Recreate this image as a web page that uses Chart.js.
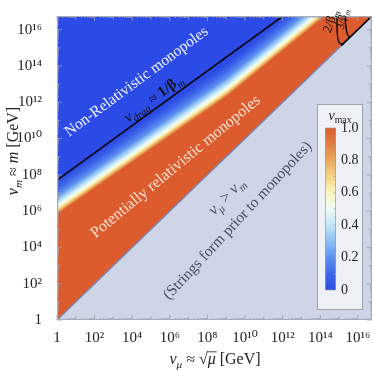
<!DOCTYPE html>
<html>
<head>
<meta charset="utf-8">
<script src="https://cdn.jsdelivr.net/npm/chart.js@4.4.1/dist/chart.umd.min.js"></script>
<style>
    html, body { margin: 0; padding: 0; background: #fff; }
</style>
</head>
<body>
<canvas id="vmaxChart" width="374" height="371"></canvas>
<script>
// both axes are log10 of GeV
const axisMinExp = 0;
const axisMaxExp = 16.75;
const labelExps = [0, 2, 4, 6, 8, 10, 12, 14, 16];

// v_max field: log10(m) of each level at v_mu = 1 GeV
const vmaxLevels = [0, 0.2, 0.4, 0.6, 0.8, 1.0];
const levelLogM = [7.65, 6.85, 6.45, 6.15, 5.95, 5.8];
// contours bend at v_mu = 10^bendExp: slope below / above
const bendExp = 9.04;
const contourSlopes = [0.72, 0.846];

// colour map used by field and colour bar
const cmapStops = [0, 0.1, 0.2, 0.3, 0.4, 0.5, 0.6, 0.7, 0.8, 0.9, 1.0];
const cmapColors = ['#2c4be6', '#3f66ea', '#5d8ff0', '#8dbff4', '#c2e6fa', '#eefbf8',
                    '#fbf5bd', '#f4d588', '#eaa75c', '#e17f42', '#dc5c2d'];
const barLabels = [1.0, 0.8, 0.6, 0.4, 0.2, 0];

// v_mu = v_m boundary, split where the contours bend
const diagLowX = [1, 10 ** (bendExp + 0.06)];
const diagHighX = [10 ** bendExp, 10 ** axisMaxExp];

// v_drag ~ 1/beta_m
const dragX = [1, 1.03e12];
const dragY = [5.1e7, 5.6e16];

// 2/beta_m and 3/beta_m contours, then along the boundary
const beta2X = [7.69e14, 8.17e14, 1.04e15, 1.6e15];
const beta2Y = [5.6e16, 4.82e15, 1.81e15, 1.6e15];
const beta3X = [2.05e15, 2.46e15, 3.34e15, 4.27e15];
const beta3Y = [5.6e16, 8.9e15, 4.02e15, 4.27e15];
const edgeX = [1.3e15, 10 ** axisMaxExp];

const FONT = '"Liberation Serif", "DejaVu Serif", serif';
const SUP = { '0': '⁰', '1': '¹', '2': '²', '3': '³', '4': '⁴', '5': '⁵', '6': '⁶', '7': '⁷', '8': '⁸', '9': '⁹' };

function toPoints(xs, ys) {
    return xs.map((x, i) => ({ x: x, y: ys[i] }));
}

function expLabel(value) {
    const e = Math.round(Math.log10(value));
    if (e === 0) return '1';
    return '10' + String(e).split('').map(c => SUP[c]).join('');
}

// log10(m) of level v at v_mu = 1
function logMAt(v) {
    for (let i = 0; i < vmaxLevels.length - 1; i++) {
        if (v <= vmaxLevels[i + 1]) {
            const t = (v - vmaxLevels[i]) / (vmaxLevels[i + 1] - vmaxLevels[i]);
            return levelLogM[i] + t * (levelLogM[i + 1] - levelLogM[i]);
        }
    }
    return levelLogM[levelLogM.length - 1];
}

// linear gradient whose stripes follow contours of slope `slope` through (10^xExp, 10^logM)
function fieldGradient(chart, part) {
    if (!chart.chartArea) return '#dc5c2d';
    const xs = chart.scales.x, ys = chart.scales.y;
    const xExp = part === 0 ? 0 : bendExp;
    const slope = contourSlopes[part];
    const lift = contourSlopes[0] * xExp;
    const x0 = xs.getPixelForValue(10 ** xExp);
    const pxX = xs.getPixelForValue(10) - xs.getPixelForValue(1);
    const pxY = ys.getPixelForValue(1) - ys.getPixelForValue(10);
    let nx = slope * pxY, ny = pxX;
    const n = Math.hypot(nx, ny);
    nx /= n; ny /= n;
    const yOf = v => ys.getPixelForValue(10 ** (logMAt(v) + lift));
    const yFirst = yOf(0), yLast = yOf(1);
    const len = (yLast - yFirst) * ny;
    const g = chart.ctx.createLinearGradient(x0, yFirst, x0 + nx * len, yFirst + ny * len);
    cmapStops.forEach((v, i) => {
        g.addColorStop(Math.min(1, Math.max(0, (yOf(v) - yFirst) / (yLast - yFirst))), cmapColors[i]);
    });
    return g;
}

// text made of runs: {t, it, sub, b, over}
function drawRich(ctx, runs, x, y, angle, size, color) {
    ctx.save();
    ctx.translate(x, y);
    ctx.rotate(angle * Math.PI / 180);
    ctx.fillStyle = color;
    ctx.strokeStyle = color;
    ctx.textBaseline = 'alphabetic';
    ctx.textAlign = 'left';
    const fontFor = r => (r.it ? 'italic ' : '') + (r.b ? 'bold ' : '') + (r.sub ? size * 0.7 : size) + 'px ' + FONT;
    let total = 0;
    runs.forEach(r => { ctx.font = fontFor(r); r.w = ctx.measureText(r.t).width; total += r.w; });
    let cx = -total / 2;
    const base = size * 0.33;
    runs.forEach(r => {
        ctx.font = fontFor(r);
        ctx.fillText(r.t, cx, base + (r.sub ? size * 0.25 : 0));
        if (r.over) {
            ctx.lineWidth = 0.8;
            ctx.beginPath();
            ctx.moveTo(cx - 1, base - size * 0.78);
            ctx.lineTo(cx + r.w + 1, base - size * 0.78);
            ctx.stroke();
        }
        cx += r.w;
    });
    ctx.restore();
}

const backdrop = {
    id: 'backdrop',
    beforeDatasetsDraw(chart) {
        const a = chart.chartArea, ctx = chart.ctx;
        ctx.save();
        ctx.fillStyle = '#cdd5e6';
        ctx.fillRect(a.left, a.top, a.right - a.left, a.bottom - a.top);
        ctx.restore();
    }
};

const frameTicks = {
    id: 'frameTicks',
    afterDatasetsDraw(chart) {
        const a = chart.chartArea, ctx = chart.ctx;
        const xs = chart.scales.x, ys = chart.scales.y;
        ctx.save();
        ctx.strokeStyle = '#9aa1ad';
        ctx.lineWidth = 0.8;
        ctx.beginPath();
        for (let e = 0; e <= Math.floor(axisMaxExp); e++) {
            for (let k = 1; k <= 9; k++) {
                const v = k * 10 ** e;
                if (Math.log10(v) > axisMaxExp) continue;
                const len = k === 1 ? (e % 2 === 0 ? 5 : 3.5) : 2;
                const px = xs.getPixelForValue(v), py = ys.getPixelForValue(v);
                ctx.moveTo(px, a.bottom); ctx.lineTo(px, a.bottom - len);
                ctx.moveTo(px, a.top); ctx.lineTo(px, a.top + len);
                ctx.moveTo(a.left, py); ctx.lineTo(a.left + len, py);
                ctx.moveTo(a.right, py); ctx.lineTo(a.right - len, py);
            }
        }
        ctx.stroke();
        ctx.strokeStyle = '#a7adb8';
        ctx.lineWidth = 1;
        ctx.strokeRect(a.left + 0.5, a.top + 0.5, a.right - a.left - 1, a.bottom - a.top - 1);
        ctx.restore();
    }
};

const labelsAndBar = {
    id: 'labelsAndBar',
    afterDraw(chart) {
        const ctx = chart.ctx;
        // colour bar
        const bx = 317, by = 104, bw = 46, bh = 206;
        const cx0 = 325, cy0 = 128, cw = 11, ch = 162;
        ctx.save();
        ctx.fillStyle = '#eef1f6';
        ctx.fillRect(bx, by, bw, bh);
        ctx.strokeStyle = '#a0a4ac';
        ctx.lineWidth = 1;
        ctx.strokeRect(bx + 0.5, by + 0.5, bw - 1, bh - 1);
        const g = ctx.createLinearGradient(0, cy0 + ch, 0, cy0);
        cmapStops.forEach((v, i) => g.addColorStop(v, cmapColors[i]));
        ctx.fillStyle = g;
        ctx.fillRect(cx0, cy0, cw, ch);
        ctx.strokeStyle = '#9a9ea8';
        ctx.lineWidth = 0.7;
        ctx.strokeRect(cx0 + 0.5, cy0, cw - 1, ch);
        ctx.beginPath();
        for (let i = 1; i < 20; i++) {
            const y = cy0 + ch - i / 20 * ch;
            ctx.moveTo(cx0 + cw, y);
            ctx.lineTo(cx0 + cw - (i % 2 === 0 ? 2.5 : 1.5), y);
        }
        ctx.stroke();
        ctx.fillStyle = '#222';
        ctx.font = '14px ' + FONT;
        ctx.textAlign = 'left';
        ctx.textBaseline = 'middle';
        barLabels.forEach(v => {
            ctx.fillText(v === 0 ? '0' : v.toFixed(1), cx0 + cw + 5, cy0 + ch - v * ch);
        });
        ctx.restore();
        drawRich(ctx, [{ t: 'v', it: true }, { t: 'max', sub: true }], 340, 115, 0, 14, '#222');

        // axis titles
        drawRich(ctx, [{ t: 'v', it: true }, { t: 'μ', it: true, sub: true }, { t: ' ≈ ' },
                       { t: '√' }, { t: 'μ', it: true, over: true }, { t: ' [GeV]' }], 215, 359, 0, 16, '#222');
        drawRich(ctx, [{ t: 'v', it: true }, { t: 'm', it: true, sub: true }, { t: ' ≈ ' },
                       { t: 'm', it: true }, { t: ' [GeV]' }], 13, 151, -90, 16, '#222');

        // region labels
        drawRich(ctx, [{ t: 'Non-Relativistic monopoles' }], 136, 81, -36.5, 15.5, '#eef0ff');
        drawRich(ctx, [{ t: 'v', it: true }, { t: 'drag', it: true, sub: true }, { t: ' ≈ ' },
                       { t: '1/β', b: true }, { t: 'm', it: true, sub: true }], 153, 98, -37, 15, '#111');
        drawRich(ctx, [{ t: 'Potentially relativistic monopoles' }], 175, 166, -39.5, 16, '#f7e0d6');
        drawRich(ctx, [{ t: 'v', it: true }, { t: 'μ', it: true, sub: true }, { t: ' > ' },
                       { t: 'v', it: true }, { t: 'm', it: true, sub: true }], 226, 196, -46, 16, '#4a4f5e');
        drawRich(ctx, [{ t: '(Strings form prior to monopoles)' }], 237, 220, -47, 15.5, '#4a4f5e');
        drawRich(ctx, [{ t: '2/β' }, { t: 'm', it: true, sub: true }], 330, 21, -72, 13, '#111');
        drawRich(ctx, [{ t: '3/β' }, { t: 'm', it: true, sub: true }], 342, 19, -77, 11.5, '#111');
    }
};

const lineStyle = { pointRadius: 0, fill: false, tension: 0, order: 1 };
const fieldStyle = { pointRadius: 0, fill: 'end', borderColor: '#7c83b0', borderWidth: 1.4 };

new Chart(document.getElementById('vmaxChart'), {
    type: 'line',
    data: {
        datasets: [
            { ...lineStyle, data: toPoints(dragX, dragY), borderColor: '#000', borderWidth: 1.5 },
            { ...lineStyle, data: toPoints(beta2X, beta2Y), borderColor: '#000', borderWidth: 1.3, tension: 0.4 },
            { ...lineStyle, data: toPoints(beta3X, beta3Y), borderColor: '#000', borderWidth: 1.3, tension: 0.4 },
            { ...lineStyle, data: toPoints(edgeX, edgeX), borderColor: '#000', borderWidth: 1.6 },
            { ...fieldStyle, order: 5, data: toPoints(diagHighX, diagHighX),
              backgroundColor: ctx => fieldGradient(ctx.chart, 1) },
            { ...fieldStyle, order: 6, data: toPoints(diagLowX, diagLowX),
              backgroundColor: ctx => fieldGradient(ctx.chart, 0) }
        ]
    },
    options: {
        responsive: false,
        animation: false,
        layout: { padding: { top: 5, right: 2, left: 0, bottom: 0 } },
        plugins: { legend: { display: false }, tooltip: { enabled: false } },
        scales: {
            x: {
                type: 'logarithmic',
                min: 10 ** axisMinExp, max: 10 ** axisMaxExp,
                afterBuildTicks: s => { s.ticks = labelExps.map(e => ({ value: 10 ** e })); },
                afterFit: s => { s.height = 51; },
                grid: { display: false }, border: { display: false },
                ticks: { callback: v => expLabel(v), font: { family: FONT, size: 15 }, color: '#222',
                         padding: 1, maxRotation: 0, autoSkip: false }
            },
            y: {
                type: 'logarithmic',
                min: 10 ** axisMinExp, max: 10 ** axisMaxExp,
                afterBuildTicks: s => { s.ticks = labelExps.map(e => ({ value: 10 ** e })); },
                afterFit: s => { s.width = 57; },
                grid: { display: false }, border: { display: false },
                ticks: { callback: v => expLabel(v), font: { family: FONT, size: 15 }, color: '#222',
                         padding: 7, autoSkip: false }
            }
        }
    },
    plugins: [backdrop, frameTicks, labelsAndBar]
});
</script>
</body>
</html>
